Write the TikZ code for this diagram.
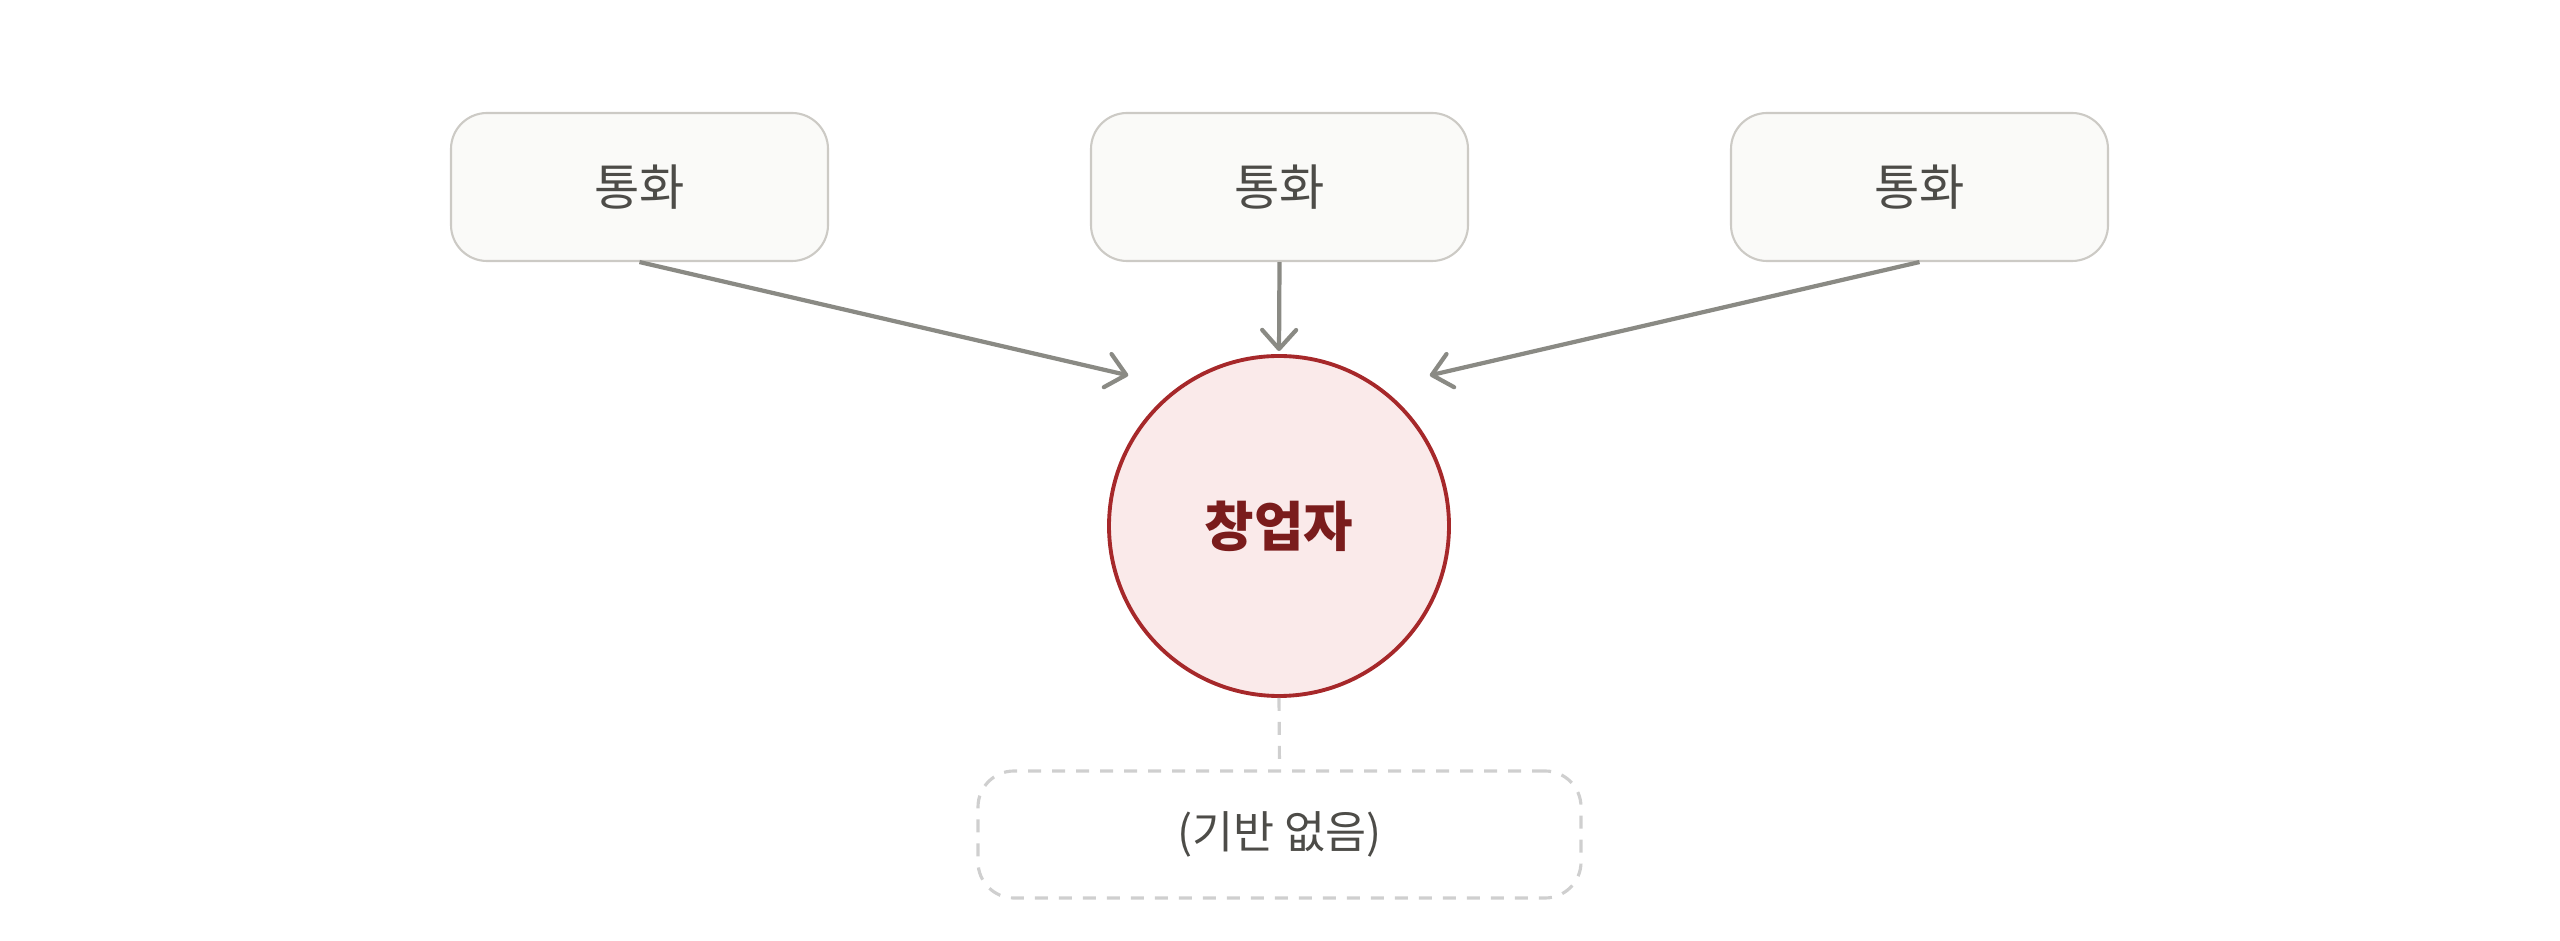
\documentclass[tikz,border=0pt]{standalone}
\usepackage{fontspec}
\usepackage{xcolor}
\usepackage{tikz}
\usetikzlibrary{arrows.meta}
\newfontfamily\kr{Noto Sans CJK KR}
\definecolor{boxfill}{HTML}{FAFAF8}
\definecolor{boxline}{HTML}{CCCAC5}
\definecolor{ink}{HTML}{4D4C48}
\definecolor{arrowgray}{HTML}{8A8A84}
\definecolor{rootfill}{HTML}{FAEAEA}
\definecolor{rootline}{HTML}{A6282A}
\definecolor{rootink}{HTML}{7A1C1C}
\definecolor{dashgray}{HTML}{CFCFCF}

\begin{document}
\begin{tikzpicture}[
    callbox/.style={shape=rectangle, rounded corners=0.36cm, draw=boxline, line width=0.6pt,
      fill=boxfill, minimum width=3.77cm, minimum height=1.48cm,
      text=ink, font=\kr\fontsize{14}{16}\selectfont},
    root/.style={shape=circle, draw=rootline, line width=1.1pt, fill=rootfill,
      minimum size=3.4cm, inner sep=0pt,
      text=rootink, font=\kr\bfseries\fontsize{15.3}{18}\selectfont},
    nobase/.style={shape=rectangle, rounded corners=0.36cm, draw=dashgray, line width=0.9pt,
      dash pattern=on 0.13cm off 0.11cm, minimum width=6.03cm, minimum height=1.27cm,
      text=ink, font=\kr\fontsize{12.7}{15}\selectfont},
    flow/.style={draw=arrowgray, line width=1.2pt,
      -{Straight Barb[length=1.9mm, width=3.4mm, round]}}]
    \useasboundingbox (0,0) rectangle (25.6,9.41);

    \node[callbox] (callA) at (6.395,7.54) {통화};
    \node[callbox] (callB) at (12.795,7.54) {통화};
    \node[callbox] (callC) at (19.195,7.54) {통화};

    \node[root] (founder) at (12.79,4.15) {창업자};
    \node[nobase] (none) at (12.795,1.065) {(기반 없음)};

    \draw[flow, shorten >=0.51cm] (callA.south) -- (founder.126);
    \draw[flow, shorten >=0.03cm] (callB.south) -- (founder.north);
    \draw[flow, shorten >=0.51cm] (callC.south) -- (founder.54);

    \draw[draw=dashgray, line width=0.9pt, dash pattern=on 0.13cm off 0.11cm] (founder.south) -- (none.north);
  \end{tikzpicture}
\end{document}
